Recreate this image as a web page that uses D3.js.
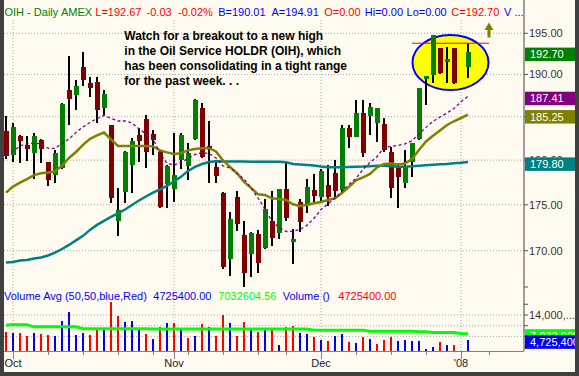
<!DOCTYPE html>
<html>
<head>
<meta charset="utf-8">
<script src="https://cdn.jsdelivr.net/npm/d3@7"></script>
<style>
  html, body { margin: 0; padding: 0; background: #404040; }
  svg { display: block; font-family: "Liberation Sans", Arial, sans-serif; }
</style>
</head>
<body>
<svg id="chart" width="579" height="376"></svg>
<script>
// trading sessions (Jan 1 slot is empty on this chart)
const sessions = [
  "2007-09-28",
  "2007-10-01","2007-10-02","2007-10-03","2007-10-04","2007-10-05","2007-10-08","2007-10-09","2007-10-10",
  "2007-10-11","2007-10-12","2007-10-15","2007-10-16","2007-10-17","2007-10-18","2007-10-19","2007-10-22",
  "2007-10-23","2007-10-24","2007-10-25","2007-10-26","2007-10-29","2007-10-30","2007-10-31",
  "2007-11-01","2007-11-02","2007-11-05","2007-11-06","2007-11-07","2007-11-08","2007-11-09","2007-11-12",
  "2007-11-13","2007-11-14","2007-11-15","2007-11-16","2007-11-19","2007-11-20","2007-11-21","2007-11-23",
  "2007-11-26","2007-11-27","2007-11-28","2007-11-29","2007-11-30",
  "2007-12-03","2007-12-04","2007-12-05","2007-12-06","2007-12-07","2007-12-10","2007-12-11","2007-12-12",
  "2007-12-13","2007-12-14","2007-12-17","2007-12-18","2007-12-19","2007-12-20","2007-12-21","2007-12-24",
  "2007-12-26","2007-12-27","2007-12-28","2007-12-31",
  "2008-01-01","2008-01-02"
];

const openPx = [183.35,180.60,182.78,181.74,180.83,182.32,179.75,178.30,179.15,188.16,
  187.57,190.91,189.03,189.15,186.07,184.00,173.23,176.42,179.45,182.90,
  184.70,182.97,180.93,177.30,176.76,180.01,179.37,182.40,186.07,181.60,
  179.26,176.35,169.15,175.86,171.71,169.68,171.82,170.26,173.23,171.96,
  176.76,170.98,175.30,175.11,176.65,175.90,177.21,178.55,176.65,183.66,
  182.70,185.40,185.12,184.24,184.16,180.90,179.26,177.40,179.82,182.43,
  189.50,189.94,193.18,191.55,193.18,null,190.95];

const highPx = [185.08,184.24,182.90,182.78,183.08,182.43,179.82,181.20,186.58,192.28,
  189.35,192.70,189.74,189.74,188.16,184.00,176.84,181.00,182.55,183.66,
  185.20,183.47,181.16,179.45,183.09,183.10,181.93,187.05,186.60,184.50,
  180.00,176.40,174.24,176.54,173.23,172.00,172.25,175.64,176.54,176.80,
  179.64,172.36,175.64,177.88,178.44,179.00,179.45,180.00,184.04,184.04,
  186.98,186.98,186.66,186.00,184.82,181.54,179.45,181.16,181.94,188.40,
  189.85,194.80,193.20,193.37,193.20,null,193.78];

const lowPx = [180.10,179.82,179.70,179.93,177.91,179.70,177.10,177.43,179.00,184.04,
  185.79,188.64,187.37,184.31,185.20,175.16,171.60,175.16,176.35,179.82,
  179.15,180.60,174.67,174.60,175.34,179.00,177.77,182.30,180.28,177.40,
  177.40,168.09,167.35,172.17,166.18,167.24,167.60,170.18,170.54,171.24,
  173.26,168.62,172.07,174.13,175.15,175.15,174.86,175.64,176.42,181.36,
  182.60,180.39,182.89,182.12,180.90,175.72,174.67,176.90,178.14,182.30,
  186.39,188.96,190.00,188.96,188.80,null,189.55];

const closePx = [180.47,183.80,182.24,181.28,182.78,181.28,177.77,180.83,186.50,187.10,
  188.64,189.35,188.44,185.79,187.69,175.78,174.42,180.93,182.15,182.24,
  180.97,182.32,174.78,179.37,178.33,182.90,180.78,186.98,180.39,181.30,
  178.25,168.30,173.45,172.93,167.67,171.92,168.73,174.53,171.41,176.76,
  173.59,171.27,173.12,176.98,175.98,178.78,175.90,176.54,183.66,182.70,
  185.40,180.78,186.11,185.99,181.11,176.84,178.14,179.26,181.94,188.36,
  189.82,194.79,190.14,191.88,188.96,null,192.70];

// volume, millions of shares
const volume = [7.7,7.35,7.35,6.1,7.35,6.9,6.5,6.1,11.7,15.0,
  6.5,7.35,6.5,8.35,8.35,18.8,13.6,11.3,11.7,9.1,
  6.9,5.0,9.5,10.9,10.9,9.1,5.4,6.1,10.6,9.5,
  6.1,13.9,10.9,6.1,11.3,8.7,7.6,8.35,8.35,2.8,
  9.5,9.8,7.35,7.0,5.9,4.75,4.4,6.25,7.0,4.0,
  3.65,5.9,5.1,3.27,4.75,5.9,4.4,4.75,4.4,4.4,
  1.4,2.15,4.0,2.9,2.9,null,4.7254];

const volumeAvg = [10.2,10.46,10.4,10.4,9.57,9.57,9.57,9.57,9.57,9.57,
  9.57,8.9,8.9,8.9,8.9,8.9,8.9,8.9,8.9,8.9,
  8.9,8.75,8.75,8.75,8.75,8.75,8.75,8.75,8.75,8.75,
  8.75,8.75,8.75,8.75,8.75,8.75,8.75,8.75,8.75,8.75,
  8.75,8.75,8.75,8.75,8.35,8.35,8.35,8.35,8.35,8.35,
  8.35,8.35,7.98,7.98,7.98,7.98,7.98,7.98,7.98,7.72,
  7.72,7.49,7.49,7.49,7.49,7.12,7.03260456];

const ma10 = [180.78,180.99,181.62,181.86,181.94,181.86,181.36,181.34,181.91,182.43,
  183.18,183.81,184.33,184.79,185.14,184.82,184.50,184.50,184.27,183.58,
  183.01,182.43,180.78,179.62,179.45,179.73,180.18,180.65,180.85,180.76,
  180.24,179.34,179.11,178.50,177.88,176.87,175.75,174.53,173.15,172.52,
  172.07,172.09,172.30,172.74,173.52,174.48,175.09,175.73,176.49,177.25,
  177.94,178.95,179.73,180.39,181.45,181.57,181.68,181.86,182.20,183.01,
  183.76,184.45,184.97,185.44,185.97,186.75,187.41];

const ma20 = [176.35,177.02,177.47,177.85,178.30,178.52,178.59,178.72,179.39,180.24,
  180.93,181.74,182.43,182.83,183.16,182.37,181.62,181.62,181.62,181.62,
  181.62,181.57,181.11,180.88,180.70,180.78,181.11,181.28,181.36,181.36,
  180.99,179.96,179.23,178.52,177.55,176.87,176.17,176.09,175.72,175.64,
  175.53,175.05,174.86,174.97,175.16,175.30,175.53,175.70,176.31,176.98,
  177.71,178.05,178.44,179.17,179.56,179.62,179.51,179.62,180.13,181.16,
  182.14,182.78,183.41,184.04,184.47,184.85,185.25];

const ma50 = [168.73,168.80,168.94,169.01,169.17,169.28,169.49,169.79,170.18,170.62,
  171.11,171.60,172.25,172.79,173.23,173.66,174.04,174.48,174.97,175.47,
  175.92,176.35,176.70,177.10,177.60,178.11,178.78,179.23,179.56,179.79,
  179.87,179.84,179.84,179.84,179.84,179.82,179.82,179.82,179.82,179.82,
  179.75,179.56,179.51,179.45,179.39,179.28,179.19,179.19,179.19,179.23,
  179.26,179.28,179.32,179.36,179.37,179.30,179.26,179.26,179.30,179.36,
  179.43,179.48,179.53,179.56,179.64,179.71,179.80];

const priceTicks = [170, 175, 180, 185, 190, 195];
const volTicks = [2, 6, 10, 14, 18];
const volGrid = [6, 10, 14];
const resistance = 193.78;

const headerItems = [
  ["OIH - Daily", 4.5, "#008000"], ["AMEX", 61, "#008000"], ["L=192.67", 95.3, "#ff0000"],
  ["-0.03", 146.6, "#ff0000"], ["-0.02%", 178, "#ff0000"], ["B=190.01", 218.2, "#0000ff"],
  ["A=194.91", 271.4, "#0000ff"], ["O=0.00", 324.2, "#ff0000"], ["Hi=0.00", 364.8, "#0000ff"],
  ["Lo=0.00", 406.6, "#0000ff"], ["C=192.70", 451.3, "#ff0000"], ["V ...", 504, "#0000ff"]
];
const noteLines = [
  "Watch for a breakout to a new high",
  "in the Oil Service HOLDR (OIH), which",
  "has been consolidating in a tight range",
  "for the past week. . ."
];

const svg = d3.select("#chart");
const plotL = 4, plotR = 524, axisY = 351;

svg.append("rect").attr("width", 579).attr("height", 376).attr("fill", "#404040");
svg.append("rect").attr("x", 4).attr("y", 0).attr("width", 571).attr("height", 372).attr("fill", "#fffbf0");

const x = d3.scaleLinear().domain([0, 74]).range([6, 524]);
const y = d3.scaleLog().domain([170, 195]).range([250.7, 33.3]);
const yVol = d3.scaleLinear().domain([0, 14]).range([352.5, 315]);

// axis slots: sessions plus following weekdays
const parse = d3.timeParse("%Y-%m-%d");
const slotDates = sessions.map(parse);
let dd = slotDates[slotDates.length - 1];
while (slotDates.length < 74) {
  dd = d3.timeDay.offset(dd, 1);
  if (dd.getDay() !== 0 && dd.getDay() !== 6) slotDates.push(dd);
}
const monthIdx = slotDates.map((d, i) => i).filter(i => i > 0 && slotDates[i].getMonth() !== slotDates[i - 1].getMonth());
const weekIdx = slotDates.map((d, i) => i).filter(i => slotDates[i].getDay() === 1 &&
  !monthIdx.some(m => Math.abs(m - i) <= 1));

// grid
const grid = svg.append("g").attr("stroke", "#a8a8a8").attr("stroke-dasharray", "1,2");
grid.selectAll(".hg").data(priceTicks).join("line")
  .attr("x1", plotL).attr("x2", plotR).attr("y1", d => y(d)).attr("y2", d => y(d));
grid.selectAll(".vg").data(volGrid).join("line")
  .attr("x1", plotL).attr("x2", plotR).attr("y1", d => yVol(d)).attr("y2", d => yVol(d));
grid.selectAll(".mg").data(monthIdx).join("line")
  .attr("x1", d => x(d)).attr("x2", d => x(d)).attr("y1", 20).attr("y2", axisY);

// highlight ellipse
svg.append("ellipse").attr("cx", x(63.5)).attr("cy", 62.5).attr("rx", 38).attr("ry", 27.5)
  .attr("fill", "#ffff00").attr("stroke", "#0000ff").attr("stroke-width", 2);

// candles
const idx = d3.range(sessions.length).filter(i => openPx[i] != null);
const cg = svg.append("g").attr("shape-rendering", "crispEdges");
cg.selectAll(".wick").data(idx).join("rect")
  .attr("x", i => x(i) - 1).attr("width", 2)
  .attr("y", i => y(highPx[i])).attr("height", i => y(lowPx[i]) - y(highPx[i]))
  .attr("fill", "#000");
cg.selectAll(".body").data(idx).join("rect")
  .attr("x", i => x(i) - 2).attr("width", 5)
  .attr("y", i => y(Math.max(openPx[i], closePx[i])))
  .attr("height", i => Math.max(1.5, Math.abs(y(openPx[i]) - y(closePx[i]))))
  .attr("fill", i => closePx[i] >= openPx[i] ? "#008000" : "#800000");

// volume
const prevClose = i => { for (let j = i - 1; j >= 0; j--) if (closePx[j] != null) return closePx[j]; return openPx[i]; };
svg.append("g").attr("shape-rendering", "crispEdges").selectAll("rect").data(idx).join("rect")
  .attr("x", i => x(i) - 1.5).attr("width", 2)
  .attr("y", i => yVol(volume[i])).attr("height", i => axisY - yVol(volume[i]))
  .attr("fill", i => closePx[i] >= prevClose(i) ? "#0000ff" : "#ff0000");

svg.append("path").datum(volumeAvg)
  .attr("d", d3.line().x((d, i) => x(i)).y(d => yVol(d)))
  .attr("fill", "none").attr("stroke", "#00ff00").attr("stroke-width", 3);

// moving averages
const maLine = d3.line().x((d, i) => x(i)).y(d => y(d));
svg.append("path").datum(ma50).attr("d", maLine).attr("fill", "none").attr("stroke", "#008080").attr("stroke-width", 2.5);
svg.append("path").datum(ma20).attr("d", maLine).attr("fill", "none").attr("stroke", "#808000").attr("stroke-width", 2.5);
svg.append("path").datum(ma10).attr("d", maLine).attr("fill", "none").attr("stroke", "#800080")
  .attr("stroke-width", 1.3).attr("stroke-dasharray", "3,2.5");

// resistance line and arrow
svg.append("line").attr("x1", x(58)).attr("x2", x(69)).attr("y1", y(resistance)).attr("y2", y(resistance))
  .attr("stroke", "#ff0000").attr("stroke-width", 1);
svg.append("path").attr("d", "M489,22.5 L493.5,30 L490.5,30 L490.5,37.5 L487.5,37.5 L487.5,30 L484.5,30 Z")
  .attr("fill", "#808000");

// note
svg.append("text").attr("x", 124.3).attr("y", 39.5)
  .attr("font-size", 12).attr("font-weight", "bold").attr("fill", "#000")
  .selectAll("tspan").data(noteLines).join("tspan")
  .attr("x", 124.3).attr("dy", (d, i) => i ? 15.2 : 0).text(d => d);

// header
svg.append("g").attr("font-size", 11).selectAll("text").data(headerItems).join("text")
  .attr("x", d => d[1]).attr("y", 16).attr("fill", d => d[2]).text(d => d[0]);

// volume legend
const last = sessions.length - 1;
const f2 = d3.format(".2f");
const volItems = [
  ["Volume Avg (50,50,blue,Red)", 4, "#0000ff"],
  [f2(volume[last] * 1e6), 153.3, "#0000ff"],
  [f2(volumeAvg[last] * 1e6), 218.3, "#00ff00"],
  ["Volume ()", 282.7, "#0000ff"],
  [f2(volume[last] * 1e6), 338.3, "#ff0000"]
];
svg.append("g").attr("font-size", 11).selectAll("text").data(volItems).join("text")
  .attr("x", d => d[1]).attr("y", 300).attr("fill", d => d[2]).text(d => d[0]);

// x axis
const ax = svg.append("g").attr("stroke", "#808080").attr("shape-rendering", "crispEdges");
ax.append("line").attr("x1", plotL).attr("x2", plotR).attr("y1", axisY).attr("y2", axisY);
ax.selectAll(".mt").data(monthIdx).join("line")
  .attr("x1", d => x(d)).attr("x2", d => x(d)).attr("y1", axisY).attr("y2", axisY + 8);
ax.selectAll(".wt").data(weekIdx.filter(i => i < 74)).join("line")
  .attr("x1", d => x(d)).attr("x2", d => x(d)).attr("y1", axisY).attr("y2", axisY + 4);
const monthFmt = d3.timeFormat("%b"), yearFmt = d3.timeFormat("'%y");
svg.append("g").attr("font-size", 11).attr("fill", "#222").attr("text-anchor", "middle")
  .selectAll("text").data(monthIdx).join("text")
  .attr("x", d => x(d)).attr("y", 367)
  .text(d => slotDates[d].getMonth() === 0 ? yearFmt(slotDates[d]) : monthFmt(slotDates[d]));

// right axis
const ra = svg.append("g");
ra.append("line").attr("x1", plotR).attr("x2", plotR).attr("y1", 0).attr("y2", axisY)
  .attr("stroke", "#808080").attr("stroke-width", 1.5);
ra.selectAll(".pt").data(priceTicks).join("line")
  .attr("x1", plotR).attr("x2", plotR + 4).attr("y1", d => y(d)).attr("y2", d => y(d)).attr("stroke", "#555");
ra.selectAll(".pl").data(priceTicks).join("text")
  .attr("x", plotR + 5).attr("y", d => y(d) + 4).attr("font-size", 11).attr("fill", "#333")
  .text(d => d.toFixed(2));
ra.append("line").attr("x1", plotR).attr("x2", plotR + 4).attr("y1", 287).attr("y2", 287).attr("stroke", "#555");
ra.selectAll(".vt").data(volTicks).join("line")
  .attr("x1", plotR).attr("x2", plotR + 4).attr("y1", d => yVol(d)).attr("y2", d => yVol(d)).attr("stroke", "#555");
ra.append("text").attr("x", plotR + 5).attr("y", yVol(14) + 3.5).attr("font-size", 11).attr("fill", "#333")
  .text(d3.format(",")(14e6).slice(0, 7) + "...");

const boxes = [
  [y(closePx[last]), "#008000", closePx[last].toFixed(2)],
  [y(ma10[last]), "#800080", ma10[last].toFixed(2)],
  [y(ma20[last]), "#808000", ma20[last].toFixed(2)],
  [y(ma50[last]), "#008080", ma50[last].toFixed(2)],
  [yVol(volumeAvg[last]), "#00ff00", d3.format(",")(Math.round(volumeAvg[last] * 1e6))],
  [yVol(volume[last]), "#0000ff", d3.format(",")(Math.round(volume[last] * 1e6))]
];
const bg = ra.selectAll(".box").data(boxes).join("g");
bg.append("rect").attr("x", plotR + 1).attr("y", d => d[0] - 4.5).attr("width", 56).attr("height", 13.5)
  .attr("fill", d => d[1]);
bg.append("text").attr("x", plotR + 6).attr("y", d => d[0] + 6).attr("font-size", 11).attr("fill", "#fff")
  .text(d => d[2]);

// frame on top
svg.append("rect").attr("x", 575).attr("y", 0).attr("width", 4).attr("height", 376).attr("fill", "#404040");
svg.append("rect").attr("x", 0).attr("y", 372).attr("width", 579).attr("height", 4).attr("fill", "#404040");
</script>
</body>
</html>
